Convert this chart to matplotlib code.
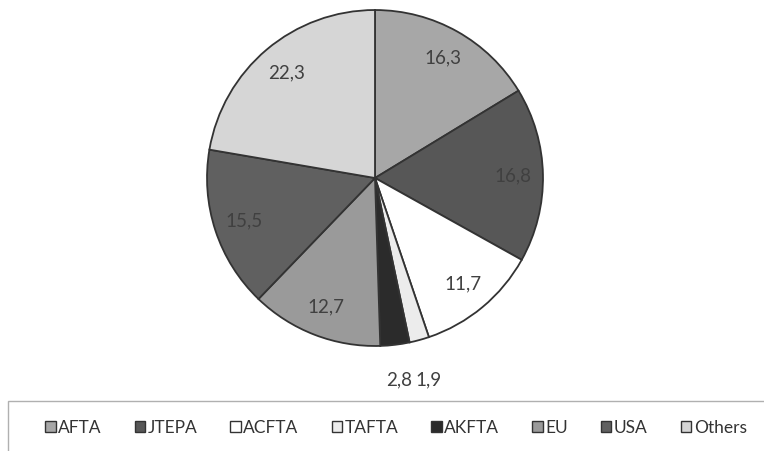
import numpy as np
import matplotlib
matplotlib.use("Agg")
import matplotlib.pyplot as plt
from matplotlib.patches import Rectangle, Patch

plt.rcParams['font.family'] = ['Lato', 'DejaVu Sans']

# share of trade by agreement (%)
labels = ["AFTA", "JTEPA", "ACFTA", "TAFTA", "AKFTA", "EU", "USA", "Others"]
values = [16.3, 16.8, 11.7, 1.9, 2.8, 12.7, 15.5, 22.3]
value_text = ["16,3", "16,8", "11,7", "1,9", "2,8", "12,7", "15,5", "22,3"]
colors = ["#a7a7a7", "#575757", "#ffffff", "#ececec", "#2b2b2b", "#9a9a9a", "#606060", "#d6d6d6"]

fig = plt.figure(figsize=(7.64, 4.51), dpi=100)

# pie axes: centre ~ (375, 178) px, radius ~168 px
ax = fig.add_axes([205 / 764, 103 / 451, 340 / 764, 340 / 451])
wedges, _ = ax.pie(values, colors=colors, startangle=90, counterclock=False,
                   wedgeprops=dict(edgecolor="#333333", linewidth=1.3))
ax.set_xlim(-1.012, 1.012)
ax.set_ylim(-1.012, 1.012)
ax.set_aspect("equal")
ax.axis("off")

# value labels, small slices go outside below the pie
for w, txt, v in zip(wedges, value_text, values):
    ang = np.deg2rad((w.theta1 + w.theta2) / 2)
    if v < 5:
        x, y = 1.2 * np.cos(ang), -1.2
    else:
        x, y = 0.82 * np.cos(ang), 0.82 * np.sin(ang)
    ax.text(x, y, txt, ha="center", va="center",
            fontsize=13.5, color="#404040", clip_on=False)

# legend frame (runs off the bottom/right of the image)
fig.patches.append(Rectangle((8 / 764, -0.1), 1.0, (451 - 401) / 451 + 0.1,
                             transform=fig.transFigure, fill=False,
                             edgecolor="#b0b0b0", linewidth=1.0))

handles = [Patch(facecolor=c, edgecolor="#333333", linewidth=1.0) for c in colors]
fig.legend(handles, labels, ncol=8, loc="center", bbox_to_anchor=(396 / 764, 1 - 428 / 451),
           frameon=False, fontsize=12.5, handlelength=0.6, handleheight=0.6,
           handletextpad=0.15, columnspacing=1.9, labelcolor="#333333")

fig.savefig("out.png", dpi=100, facecolor="white")
